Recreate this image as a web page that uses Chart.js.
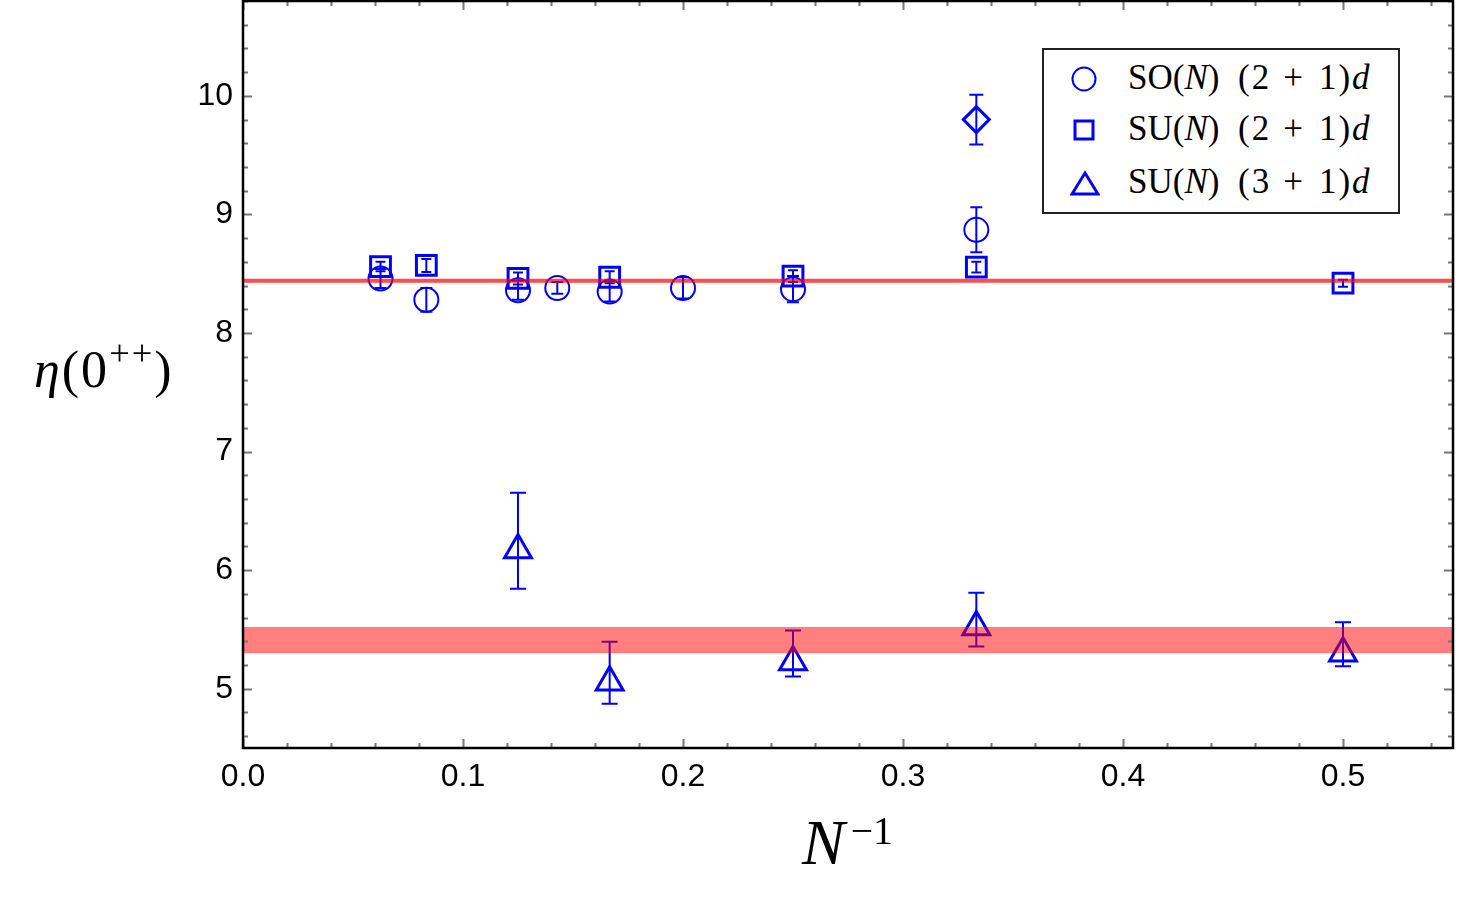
<!DOCTYPE html>
<html>
<head>
<meta charset="utf-8">
<title>eta(0++) vs 1/N</title>
<script src="https://cdn.jsdelivr.net/npm/chart.js@4.4.1/dist/chart.umd.min.js"></script>
<style>
    html, body { margin: 0; padding: 0; background: #fff; }
    #wrap { position: relative; width: 1459px; height: 913px; }
    .math { position: absolute; font-family: 'Liberation Serif', 'Times New Roman', serif; color: #000; white-space: nowrap; }
    .math sup { font-size: 0.7em; vertical-align: 0.6em; line-height: 0; }
    #ylab { left: 34px; top: 340px; font-size: 52px; letter-spacing: 2px; }
    #xlab { left: 802px; top: 806px; font-size: 64px; }
    #xlab sup { margin-left: 6px; font-size: 0.62em; vertical-align: 0.5em; }
    #legend { position: absolute; left: 1042px; top: 48px; width: 354px; height: 162px; border: 2px solid #222; background: #fff; }
    #legend .row { position: absolute; left: 0; width: 354px; height: 40px; line-height: 40px; }
    #legend svg { position: absolute; left: 26px; top: 7px; }
    #legend .a { position: absolute; left: 84px; top: 0; font-size: 35px; }
    #legend .b { position: absolute; left: 194px; top: 0; font-size: 35px; letter-spacing: 2px; }
    #legend .op { margin: 0 14px 0 12px; }
</style>
</head>
<body>
<div id="wrap">
    <canvas id="myChart" width="1459" height="913"></canvas>
    <div id="ylab" class="math"><i>η</i>(0<sup>++</sup>)</div>
    <div id="xlab" class="math"><i>N</i><sup>−1</sup></div>
    <div id="legend">
        <div class="row" style="top: 8px;">
            <svg width="28" height="28"><circle cx="14" cy="14" r="11.5" fill="none" stroke="#00f" stroke-width="2"/></svg>
            <span class="math a">SO(<i>N</i>)</span>
            <span class="math b">(2<span class="op">+</span>1)<i>d</i></span>
        </div>
        <div class="row" style="top: 59px;">
            <svg width="28" height="28"><rect x="5" y="5" width="18" height="18" fill="none" stroke="#00f" stroke-width="3"/></svg>
            <span class="math a">SU(<i>N</i>)</span>
            <span class="math b">(2<span class="op">+</span>1)<i>d</i></span>
        </div>
        <div class="row" style="top: 112px;">
            <svg width="30" height="28"><polygon points="15,4 28,25 2,25" fill="none" stroke="#00f" stroke-width="3"/></svg>
            <span class="math a">SU(<i>N</i>)</span>
            <span class="math b">(3<span class="op">+</span>1)<i>d</i></span>
        </div>
    </div>
</div>
<script>
'use strict';

// SO(N) (2+1)d
let soX = [1 / 16, 1 / 12, 1 / 8, 1 / 7, 1 / 6, 1 / 5, 1 / 4, 1 / 3];
let soY = [8.46, 8.28, 8.36, 8.38, 8.35, 8.38, 8.37, 8.87];
let soErr = [0.08, 0.10, 0.08, 0.05, 0.085, 0.09, 0.11, 0.19];

// the extra SO(3) point drawn as a diamond
let so3X = [1 / 3];
let so3Y = [9.80];
let so3Err = [0.21];

// SU(N) (2+1)d
let su2X = [1 / 16, 1 / 12, 1 / 8, 1 / 6, 1 / 4, 1 / 3, 1 / 2];
let su2Y = [8.56, 8.57, 8.46, 8.47, 8.48, 8.555, 8.42];
let su2Err = [0.04, 0.055, 0.05, 0.05, 0.05, 0.045, 0.03];

// SU(N) (3+1)d, asymmetric bars
let su3X = [1 / 8, 1 / 6, 1 / 4, 1 / 3, 1 / 2];
let su3Y = [6.17, 5.055, 5.226, 5.52, 5.30];
let su3Lo = [5.843, 4.874, 5.104, 5.355, 5.19];
let su3Hi = [6.653, 5.396, 5.492, 5.81, 5.56];

// large-N fits
let fit2d = 8.44;
let band4dLo = 5.30;
let band4dHi = 5.52;

let xTicks = [0, 0.1, 0.2, 0.3, 0.4, 0.5];
let xTickLabels = ['0.0', '0.1', '0.2', '0.3', '0.4', '0.5'];
let yTicks = [5, 6, 7, 8, 9, 10];
let yTickLabels = ['5', '6', '7', '8', '9', '10'];

const X_MIN = 0, X_MAX = 0.55, Y_MIN = 4.5, Y_MAX = 10.8;
const BLUE = '#0000ff';

function withErr(xs, ys, lo, hi) {
    let out = [];
    for (let i = 0; i < xs.length; i++) {
        out.push({ x: xs[i], y: ys[i], yMin: lo[i], yMax: hi[i] });
    }
    return out;
}
function symErr(xs, ys, err) {
    return withErr(xs, ys, ys.map((v, i) => v - err[i]), ys.map((v, i) => v + err[i]));
}

// error bars go under the markers and under the red band
const errorBars = {
    id: 'errorBars',
    beforeDatasetsDraw(chart) {
        const { ctx, scales: { x, y } } = chart;
        ctx.save();
        ctx.strokeStyle = BLUE;
        ctx.lineWidth = 2;
        chart.data.datasets.forEach(ds => {
            if (!ds.capHalf) return;
            ds.data.forEach(p => {
                let px = x.getPixelForValue(p.x);
                let top = y.getPixelForValue(p.yMax);
                let bot = y.getPixelForValue(p.yMin);
                let c = ds.capHalf;
                ctx.beginPath();
                ctx.moveTo(px, top); ctx.lineTo(px, bot);
                ctx.moveTo(px - c, top); ctx.lineTo(px + c, top);
                ctx.moveTo(px - c, bot); ctx.lineTo(px + c, bot);
                ctx.stroke();
            });
        });
        ctx.restore();
    }
};

// frame with inward ticks on all four sides
const frameTicks = {
    id: 'frameTicks',
    afterDraw(chart) {
        const { ctx, chartArea: a, scales: { x, y } } = chart;
        ctx.save();
        ctx.strokeStyle = '#777';
        ctx.lineWidth = 2;
        ctx.beginPath();
        for (let i = 0; i * 0.02 <= X_MAX + 1e-9; i++) {
            let v = i * 0.02;
            let len = (i % 5 === 0) ? 9 : 5;
            let px = Math.round(x.getPixelForValue(v)) + 0.5;
            ctx.moveTo(px, a.bottom); ctx.lineTo(px, a.bottom - len);
            ctx.moveTo(px, a.top); ctx.lineTo(px, a.top + len);
        }
        for (let i = Math.ceil(Y_MIN / 0.2); i * 0.2 <= Y_MAX + 1e-9; i++) {
            let v = i * 0.2;
            let len = (i % 5 === 0) ? 9 : 5;
            let py = Math.round(y.getPixelForValue(v)) + 0.5;
            ctx.moveTo(a.left, py); ctx.lineTo(a.left + len, py);
            ctx.moveTo(a.right, py); ctx.lineTo(a.right - len, py);
        }
        ctx.stroke();
        ctx.strokeStyle = '#000';
        ctx.lineWidth = 2.5;
        ctx.strokeRect(a.left, a.top, a.right - a.left, a.bottom - a.top);
        ctx.restore();
    }
};

let tickFont = { family: "'Liberation Sans', Arial, sans-serif", size: 32 };

var ctx = document.getElementById('myChart').getContext('2d');
new Chart(ctx, {
    type: 'line',
    data: {
        datasets: [
            {
                label: 'fit 2+1',
                data: [{ x: X_MIN, y: fit2d }, { x: X_MAX, y: fit2d }],
                borderColor: 'rgba(255, 0, 0, 0.7)',
                borderWidth: 4,
                pointRadius: 0,
                fill: false,
                order: 0
            },
            {
                label: 'band 3+1',
                data: [{ x: X_MIN, y: band4dHi }, { x: X_MAX, y: band4dHi }],
                borderWidth: 0,
                borderColor: 'rgba(0,0,0,0)',
                backgroundColor: 'rgba(255, 0, 0, 0.5)',
                pointRadius: 0,
                fill: { value: band4dLo },
                order: 0
            },
            {
                label: 'SO(N) (2+1)d',
                data: symErr(soX, soY, soErr),
                showLine: false,
                pointStyle: 'circle',
                pointRadius: 12,
                pointBorderWidth: 2,
                pointBorderColor: BLUE,
                pointBackgroundColor: 'rgba(0,0,0,0)',
                capHalf: 6,
                order: 1
            },
            {
                label: 'SO(3) extra',
                data: symErr(so3X, so3Y, so3Err),
                showLine: false,
                pointStyle: 'rectRot',
                pointRadius: 13,
                pointBorderWidth: 3,
                pointBorderColor: BLUE,
                pointBackgroundColor: 'rgba(0,0,0,0)',
                capHalf: 7,
                order: 1
            },
            {
                label: 'SU(N) (2+1)d',
                data: symErr(su2X, su2Y, su2Err),
                showLine: false,
                pointStyle: 'rect',
                pointRadius: 14,
                pointBorderWidth: 3,
                pointBorderColor: BLUE,
                pointBackgroundColor: 'rgba(0,0,0,0)',
                capHalf: 5,
                order: 1
            },
            {
                label: 'SU(N) (3+1)d',
                data: withErr(su3X, su3Y, su3Lo, su3Hi),
                showLine: false,
                pointStyle: 'triangle',
                pointRadius: 15.5,
                pointBorderWidth: 3,
                pointBorderColor: BLUE,
                pointBackgroundColor: 'rgba(0,0,0,0)',
                capHalf: 8,
                order: 1
            }
        ]
    },
    options: {
        responsive: false,
        animation: false,
        events: [],
        layout: { autoPadding: false, padding: { top: 1, right: 6, left: 0, bottom: 0 } },
        plugins: {
            legend: { display: false },
            tooltip: { enabled: false }
        },
        scales: {
            x: {
                type: 'linear',
                min: X_MIN,
                max: X_MAX,
                grid: { display: false, drawTicks: false },
                border: { display: false },
                afterBuildTicks: s => { s.ticks = xTicks.map(v => ({ value: v })); },
                afterFit: s => {
                    s.height = 165;
                    s.paddingLeft = 0;
                    s.paddingRight = 0;
                },
                ticks: {
                    color: '#000',
                    font: tickFont,
                    padding: 10,
                    maxRotation: 0,
                    callback: (v) => xTickLabels[xTicks.indexOf(v)]
                }
            },
            y: {
                type: 'linear',
                min: Y_MIN,
                max: Y_MAX,
                grid: { display: false, drawTicks: false },
                border: { display: false },
                afterBuildTicks: s => { s.ticks = yTicks.map(v => ({ value: v })); },
                afterFit: s => {
                    s.width = 243;
                    s.paddingTop = 0;
                    s.paddingBottom = 0;
                },
                ticks: {
                    color: '#000',
                    font: tickFont,
                    padding: 10,
                    callback: (v) => yTickLabels[yTicks.indexOf(v)]
                }
            }
        }
    },
    plugins: [errorBars, frameTicks]
});
</script>
</body>
</html>
